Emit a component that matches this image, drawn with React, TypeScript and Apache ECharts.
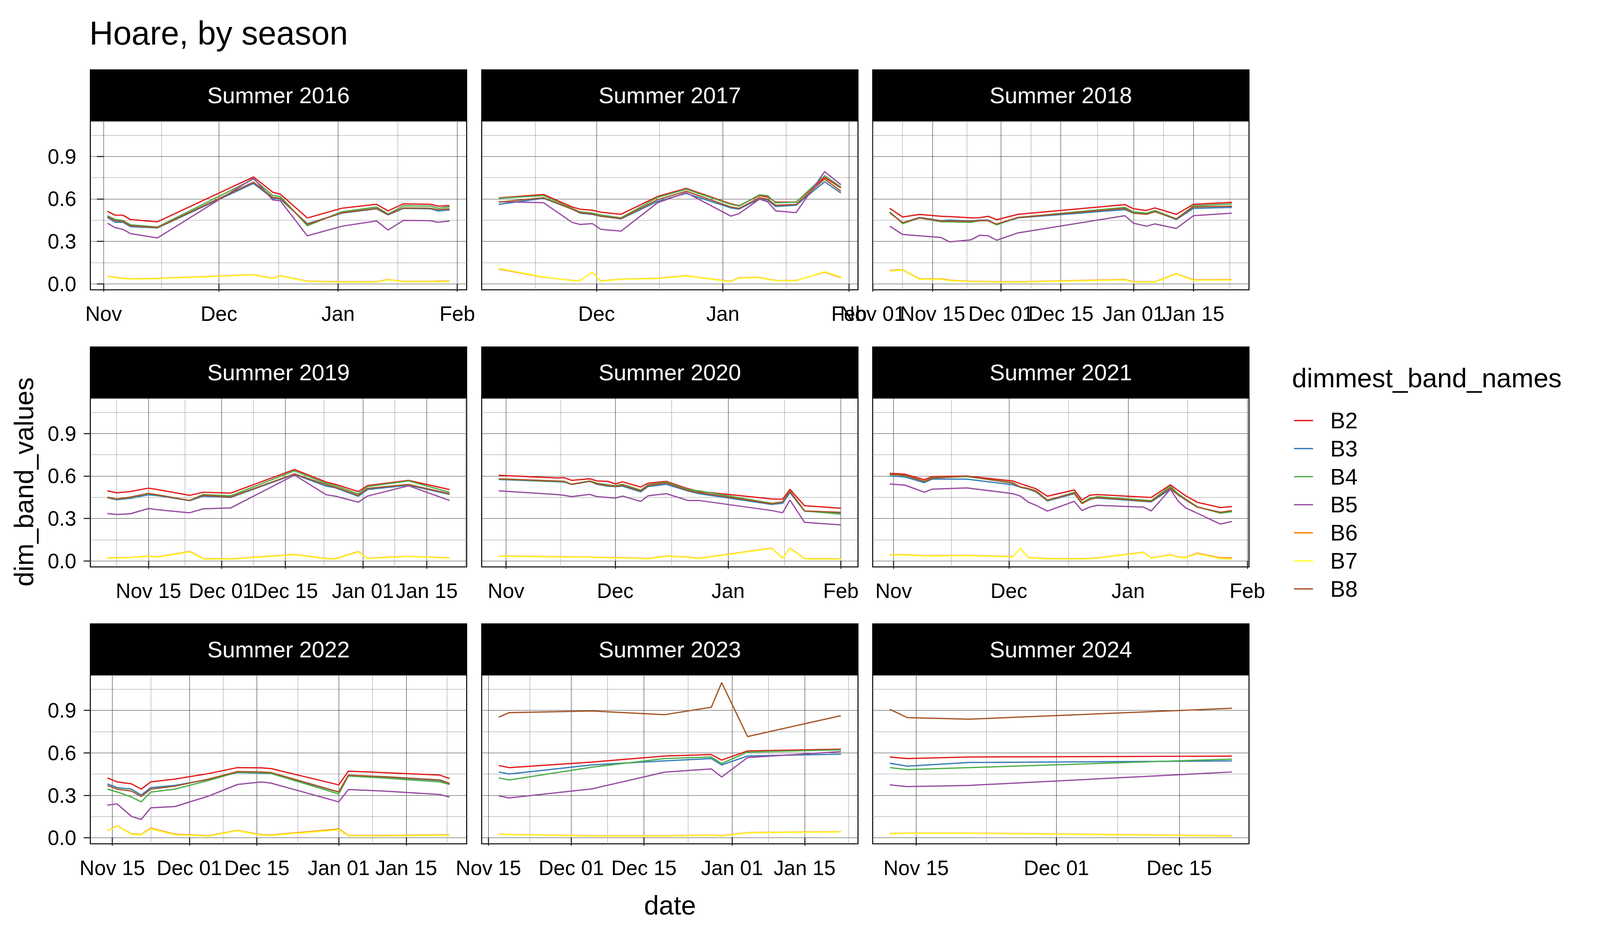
import React, { useEffect, useRef } from 'react';
import * as echarts from 'echarts';

const FONT = '"Liberation Sans", Arial, Helvetica, sans-serif';

const bands = ['B2', 'B3', 'B4', 'B5', 'B6', 'B7', 'B8'];
const bandColors = ['#E41A1C', '#377EB8', '#4DAF4A', '#984EA3', '#FF7F00', '#FFFF33', '#A65628'];

// date breaks used by the x axes (month-day strings)
const monthlyBreaks = ['10-01', '11-01', '12-01', '01-01', '02-01', '03-01'];
const halfMonthBreaks = ['10-15', '11-01', '11-15', '12-01', '12-15', '01-01', '01-15', '02-01', '02-15'];
const yBreaks = [0, 0.3, 0.6, 0.9];
const yMinorBreaks = [0.15, 0.45, 0.75, 1.05];

const summer2016 = {
    dates: ['11-02', '11-04', '11-06', '11-08', '11-15', '12-10', '12-15', '12-17', '12-24', '01-02', '01-11', '01-14', '01-18', '01-25', '01-27', '01-30'],
    B2: [.512, .485, .485, .454, .438, .755, .647, .633, .465, .534, .562, .515, .565, .562, .549, .552],
    B3: [.469, .435, .435, .404, .395, .709, .604, .598, .425, .499, .530, .487, .533, .530, .515, .521],
    B4: [.481, .454, .448, .417, .401, .740, .623, .617, .410, .509, .543, .493, .551, .549, .534, .543],
    B5: [.428, .397, .385, .355, .324, .746, .592, .586, .339, .407, .444, .380, .448, .446, .435, .444],
    B6: [.054, .045, .039, .035, .038, .064, .039, .057, .018, .014, .014, .030, .017, .017, .018, .019],
    B7: [.052, .043, .037, .033, .036, .062, .037, .055, .016, .012, .012, .028, .015, .015, .015, .016],
    B8: [.475, .446, .441, .411, .397, .718, .610, .604, .419, .502, .533, .490, .536, .534, .523, .530],
};

const summer2017 = {
    dates: ['11-07', '11-18', '11-25', '11-27', '11-30', '12-02', '12-07', '12-16', '12-23', '01-03', '01-05', '01-10', '01-12', '01-14', '01-19', '01-26', '01-30'],
    B2: [.607, .631, .543, .527, .520, .506, .491, .617, .674, .565, .552, .623, .613, .577, .577, .752, .678],
    B3: [.561, .604, .528, .499, .490, .477, .459, .582, .639, .536, .528, .600, .592, .546, .555, .721, .641],
    B4: [.604, .623, .533, .508, .499, .487, .466, .610, .668, .561, .549, .629, .623, .572, .577, .764, .684],
    B5: [.580, .573, .434, .419, .425, .385, .372, .573, .644, .478, .496, .598, .580, .515, .503, .792, .700],
    B6: [.105, .047, .024, .024, .082, .020, .033, .039, .057, .017, .043, .045, .033, .024, .023, .083, .045],
    B7: [.109, .049, .022, .022, .084, .018, .031, .037, .055, .015, .041, .043, .031, .022, .021, .086, .049],
    B8: [.577, .608, .527, .503, .493, .478, .462, .594, .654, .543, .533, .608, .598, .555, .561, .740, .654],
};

const summer2018 = {
    dates: ['11-05', '11-08', '11-12', '11-17', '11-19', '11-24', '11-26', '11-28', '11-30', '12-05', '12-30', '01-01', '01-04', '01-06', '01-11', '01-15', '01-24'],
    B2: [.533, .472, .490, .477, .475, .466, .467, .477, .453, .491, .559, .530, .518, .536, .491, .561, .576],
    B3: [.502, .432, .469, .446, .450, .444, .450, .450, .419, .466, .524, .499, .493, .512, .454, .533, .540],
    B4: [.508, .425, .465, .438, .438, .434, .446, .446, .416, .469, .540, .508, .499, .518, .459, .551, .565],
    B5: [.407, .349, .339, .327, .296, .311, .343, .339, .308, .360, .481, .428, .407, .423, .391, .481, .499],
    B6: [.094, .099, .034, .034, .025, .017, .017, .016, .014, .014, .030, .014, .014, .014, .071, .028, .030],
    B7: [.090, .096, .031, .031, .022, .015, .015, .014, .012, .012, .027, .012, .012, .012, .068, .025, .027],
    B8: [.502, .432, .465, .444, .444, .441, .446, .446, .422, .469, .533, .499, .491, .509, .459, .543, .549],
};

const summer2019 = {
    dates: ['11-06', '11-08', '11-11', '11-15', '11-17', '11-24', '11-27', '12-03', '12-17', '12-24', '12-26', '12-31', '01-02', '01-11', '01-20'],
    B2: [.495, .481, .490, .514, .504, .463, .485, .479, .646, .557, .541, .490, .532, .569, .504],
    B3: [.446, .432, .442, .467, .461, .426, .457, .448, .611, .528, .516, .457, .504, .535, .470],
    B4: [.451, .436, .448, .475, .467, .427, .469, .460, .636, .547, .531, .473, .525, .565, .485],
    B5: [.335, .328, .333, .370, .362, .340, .368, .374, .606, .467, .457, .415, .458, .531, .427],
    B6: [.021, .022, .024, .034, .028, .066, .016, .014, .045, .016, .015, .066, .018, .033, .021],
    B7: [.019, .020, .022, .032, .026, .063, .014, .012, .043, .014, .013, .063, .016, .031, .019],
    B8: [.448, .438, .451, .477, .467, .427, .464, .452, .615, .538, .520, .463, .512, .540, .475],
};

const summer2020 = {
    dates: ['10-30', '11-15', '11-17', '11-19', '11-24', '11-26', '11-29', '12-01', '12-03', '12-08', '12-10', '12-15', '12-21', '12-24', '01-13', '01-16', '01-18', '01-22', '02-01'],
    B2: [.605, .586, .588, .569, .580, .565, .562, .544, .559, .522, .549, .562, .510, .491, .438, .436, .506, .390, .372],
    B3: [.575, .559, .557, .540, .562, .541, .528, .525, .528, .488, .525, .541, .494, .475, .399, .407, .483, .352, .340],
    B4: [.578, .562, .559, .541, .565, .549, .537, .531, .541, .500, .537, .557, .504, .495, .407, .417, .495, .353, .331],
    B5: [.495, .469, .463, .454, .470, .454, .448, .444, .458, .420, .460, .475, .427, .427, .356, .340, .430, .273, .254],
    B6: [.034, .030, .029, .028, .028, .025, .024, .023, .023, .018, .016, .034, .027, .018, .090, .018, .090, .016, .014],
    B7: [.032, .028, .027, .026, .026, .023, .022, .021, .021, .016, .014, .032, .025, .016, .088, .016, .088, .014, .012],
    B8: [.580, .565, .562, .541, .563, .544, .532, .526, .535, .495, .532, .551, .498, .483, .404, .417, .491, .353, .343],
};

const summer2021 = {
    dates: ['10-31', '11-04', '11-09', '11-11', '11-20', '12-02', '12-04', '12-06', '12-08', '12-11', '12-18', '12-20', '12-22', '12-24', '01-05', '01-07', '01-12', '01-14', '01-16', '01-19', '01-25', '01-28'],
    B2: [.619, .612, .574, .596, .599, .565, .545, .528, .510, .457, .501, .430, .464, .469, .451, .448, .537, .498, .460, .414, .377, .384],
    B3: [.600, .593, .553, .578, .578, .538, .520, .507, .488, .423, .475, .405, .442, .444, .421, .417, .507, .467, .430, .380, .343, .352],
    B4: [.612, .602, .562, .588, .596, .553, .522, .510, .491, .426, .485, .411, .442, .454, .430, .426, .528, .475, .436, .383, .337, .347],
    B5: [.543, .535, .485, .507, .516, .475, .458, .415, .393, .352, .421, .356, .380, .393, .380, .353, .506, .423, .374, .337, .260, .279],
    B6: [.043, .043, .037, .037, .039, .030, .088, .024, .021, .016, .016, .016, .018, .021, .061, .021, .043, .028, .024, .055, .021, .021],
    B7: [.041, .041, .035, .035, .037, .028, .090, .022, .019, .014, .014, .014, .016, .019, .059, .019, .041, .026, .022, .051, .016, .014],
    B8: [.611, .605, .562, .584, .599, .549, .522, .512, .495, .430, .479, .405, .433, .448, .423, .421, .516, .467, .433, .380, .343, .356],
};

const summer2022 = {
    dates: ['11-14', '11-16', '11-19', '11-21', '11-23', '11-28', '12-05', '12-11', '12-16', '12-18', '01-01', '01-03', '01-10', '01-22', '01-24'],
    B2: [.423, .395, .381, .344, .395, .415, .454, .496, .494, .489, .374, .471, .461, .443, .419],
    B3: [.381, .355, .344, .302, .355, .370, .412, .461, .457, .454, .324, .440, .430, .405, .377],
    B4: [.344, .324, .288, .254, .323, .344, .405, .464, .461, .454, .310, .436, .423, .395, .377],
    B5: [.231, .240, .151, .130, .212, .221, .295, .377, .395, .386, .254, .341, .331, .306, .288],
    B6: [.050, .085, .027, .023, .068, .025, .015, .052, .020, .020, .062, .017, .016, .020, .020],
    B7: [.048, .083, .024, .020, .063, .021, .012, .049, .017, .017, .056, .014, .013, .017, .017],
    B8: [.370, .344, .330, .292, .344, .365, .415, .468, .465, .461, .324, .443, .433, .409, .384],
};

const summer2023 = {
    dates: ['11-17', '11-19', '12-05', '12-19', '12-28', '12-30', '01-04', '01-22'],
    B2: [.511, .496, .535, .578, .588, .549, .614, .626],
    B3: [.465, .451, .515, .543, .560, .515, .578, .591],
    B4: [.423, .409, .499, .560, .571, .525, .606, .621],
    B5: [.296, .282, .346, .464, .487, .430, .567, .609],
    B6: [.026, .024, .014, .014, .019, .015, .037, .043],
    B7: [.024, .022, .012, .012, .017, .013, .035, .041],
    B8: [.853, .884, .896, .870, .922, 1.096, .715, .863],
};

const summer2024 = {
    dates: ['11-12', '11-14', '11-21', '12-21'],
    B2: [.571, .560, .571, .577],
    B3: [.527, .506, .532, .543],
    B4: [.496, .482, .496, .556],
    B5: [.374, .362, .370, .465],
    B6: [.030, .033, .033, .014],
    B7: [.028, .031, .031, .012],
    B8: [.908, .849, .838, .915],
};

const panels = [
    { name: 'Summer 2016', data: summer2016, breaks: monthlyBreaks, fmt: 'month' },
    { name: 'Summer 2017', data: summer2017, breaks: monthlyBreaks, fmt: 'month' },
    { name: 'Summer 2018', data: summer2018, breaks: halfMonthBreaks, fmt: 'day' },
    { name: 'Summer 2019', data: summer2019, breaks: halfMonthBreaks, fmt: 'day' },
    { name: 'Summer 2020', data: summer2020, breaks: monthlyBreaks, fmt: 'month' },
    { name: 'Summer 2021', data: summer2021, breaks: monthlyBreaks, fmt: 'month' },
    { name: 'Summer 2022', data: summer2022, breaks: halfMonthBreaks, fmt: 'day' },
    { name: 'Summer 2023', data: summer2023, breaks: halfMonthBreaks, fmt: 'day' },
    { name: 'Summer 2024', data: summer2024, breaks: halfMonthBreaks, fmt: 'day' },
];

const MONTH_OFFSET: Record<string, number> = { '10': -31, '11': 0, '12': 30, '01': 61, '02': 92, '03': 120 };
const MONTH_NAME: Record<string, string> = { '10': 'Oct', '11': 'Nov', '12': 'Dec', '01': 'Jan', '02': 'Feb', '03': 'Mar' };
const dayOf = (md: string) => MONTH_OFFSET[md.slice(0, 2)] + Number(md.slice(3)) - 1;

// layout, in pixels of a 4800 x 2400 page (scaled to the real viewport)
const colLeft = [271, 1445, 2618];
const rowTop = [309.5, 1018.5, 1727];
const PW = 1129;
const PH = 432;
const STRIP_H = 132;

const App: React.FC = () => {
    const chartRef = useRef<HTMLDivElement>(null);

    useEffect(() => {
        document.documentElement.style.overflow = 'hidden';
        document.body.style.margin = '0';
        document.body.style.overflow = 'hidden';
        const el = chartRef.current;
        if (!el) return;
        const chart = echarts.init(el, null, { renderer: 'svg' });
        const sx = chart.getWidth() / 4800;
        const sy = chart.getHeight() / 2400;
        const X = (v: number) => v * sx;
        const Y = (v: number) => v * sy;
        const F = (v: number) => v * sx;

        // shared y range, expanded 5% like ggplot
        let lo = Infinity, hi = -Infinity;
        panels.forEach(p => bands.forEach(b => (p.data as any)[b].forEach((v: number) => {
            lo = Math.min(lo, v); hi = Math.max(hi, v);
        })));
        const yPad = (hi - lo) * 0.05;
        const yMin = lo - yPad, yMax = hi + yPad;

        const grids: any[] = [];
        const xAxes: any[] = [];
        const yAxes: any[] = [];
        const series: any[] = [];
        const graphics: any[] = [];

        const tickStyle = { color: '#333', width: Math.max(1, F(3.5)) };
        const majorLine = { color: '#3a3a3a', width: Math.max(1, F(1.3)) };
        const minorLine = { color: '#9a9a9a', width: 1 };
        const tickLabel = {
            fontSize: F(62), lineHeight: F(62), color: '#000', fontFamily: FONT,
            hideOverlap: false
        };

        panels.forEach((p, i) => {
            const r = Math.floor(i / 3), c = i % 3;
            const left = X(colLeft[c]), top = Y(rowTop[r]);
            const w = X(PW), h = Y(PH);
            grids.push({
                left, top, width: w, height: h,
                show: true, borderColor: '#000', borderWidth: F(3), backgroundColor: '#fff',
                containLabel: false, outerBoundsMode: 'none'
            });

            const xs = p.data.dates.map(dayOf);
            const x0 = xs[0], x1 = xs[xs.length - 1];
            const pad = (x1 - x0) * 0.05;
            const xmin = x0 - pad - 1e-6, xmax = x1 + pad + 1e-6;
            const major = p.breaks.map(dayOf);
            const minor = major.slice(1).map((v, k) => (v + major[k]) / 2);
            const labelOf: Record<number, string> = {};
            p.breaks.forEach(b => {
                const m = MONTH_NAME[b.slice(0, 2)];
                labelOf[dayOf(b)] = p.fmt === 'month' ? m : `${m} ${b.slice(3)}`;
            });
            // month-start labels on one axis, mid-month labels on the other,
            // so that neighbouring labels never get dropped for overlapping
            const startLabels = p.breaks.filter(b => b.endsWith('-01')).map(dayOf);
            const midLabels = p.breaks.filter(b => !b.endsWith('-01')).map(dayOf);
            const fmt = (v: number) => labelOf[Math.round(v)] ?? '';

            xAxes.push({
                type: 'value', gridIndex: i, min: xmin, max: xmax, position: 'bottom',
                axisLine: { show: false },
                axisTick: { show: true, length: Y(20), lineStyle: tickStyle, customValues: major },
                axisLabel: { ...tickLabel, customValues: startLabels, formatter: fmt, margin: Y(35) },
                splitLine: { show: true, lineStyle: majorLine }
            });
            xAxes.push({
                type: 'value', gridIndex: i, min: xmin, max: xmax, position: 'bottom',
                axisLine: { show: false },
                axisTick: { show: false, customValues: minor },
                axisLabel: midLabels.length
                    ? { ...tickLabel, customValues: midLabels, formatter: fmt, margin: Y(35) }
                    : { show: false },
                splitLine: { show: true, lineStyle: minorLine }
            });

            const first = c === 0;
            yAxes.push({
                type: 'value', gridIndex: i, min: yMin, max: yMax,
                axisLine: { show: false },
                axisTick: { show: first, length: X(20), lineStyle: tickStyle, customValues: yBreaks },
                axisLabel: {
                    ...tickLabel, show: first, customValues: yBreaks,
                    formatter: (v: number) => v.toFixed(1), margin: X(42)
                },
                splitLine: { show: true, lineStyle: majorLine }
            });
            yAxes.push({
                type: 'value', gridIndex: i, min: yMin, max: yMax,
                axisLine: { show: false },
                axisTick: { show: false, customValues: yMinorBreaks },
                axisLabel: { show: false },
                splitLine: { show: true, lineStyle: minorLine }
            });

            bands.forEach((b, k) => {
                const vals: number[] = (p.data as any)[b];
                series.push({
                    type: 'line', name: b, xAxisIndex: 2 * i, yAxisIndex: 2 * i,
                    data: xs.map((x, j) => [x, vals[j]]),
                    symbol: 'none', color: bandColors[k],
                    lineStyle: { width: F(3.8), color: bandColors[k] },
                    itemStyle: { color: bandColors[k] },
                    clip: true, z: 3
                });
            });

            graphics.push({
                type: 'rect', z: 20,
                shape: { x: left - F(1.5), y: top - Y(STRIP_H), width: w + F(3), height: Y(STRIP_H) },
                style: { fill: '#000' }
            });
            graphics.push({
                type: 'text', z: 21, x: left + w / 2, y: top - Y(STRIP_H) / 2,
                style: { text: p.name, fill: '#fff', fontSize: F(68), fontFamily: FONT, align: 'center', verticalAlign: 'middle' }
            });
        });

        graphics.push({
            type: 'text', x: X(71), y: Y(1233), rotation: Math.PI / 2,
            style: { text: 'dim_band_values', fill: '#000', fontSize: F(80), fontFamily: FONT, align: 'center', verticalAlign: 'middle' }
        });
        graphics.push({
            type: 'text', x: X(2010), y: Y(2340) - F(80) * 0.3465,
            style: { text: 'date', fill: '#000', fontSize: F(80), fontFamily: FONT, align: 'center', verticalAlign: 'middle' }
        });

        const legendRow = Y(71.8);
        const legendFont = F(67);

        chart.setOption({
            animation: false,
            backgroundColor: '#fff',
            title: [
                {
                    text: 'Hoare, by season', left: X(268), top: Y(114) - F(99) * 0.8465, padding: 0,
                    textStyle: { fontSize: F(99), lineHeight: F(99), fontWeight: 'normal', color: '#000', fontFamily: FONT }
                },
                {
                    text: 'dimmest_band_names', left: X(3876), top: Y(991) - F(80) * 0.8465, padding: 0,
                    textStyle: { fontSize: F(80), lineHeight: F(80), fontWeight: 'normal', color: '#000', fontFamily: FONT }
                }
            ],
            legend: {
                data: bands, orient: 'vertical', left: X(3882), top: Y(1076) - legendFont / 2, padding: 0,
                icon: 'rect', itemWidth: X(57), itemHeight: Math.max(2, F(4)), itemGap: legendRow - legendFont,
                selectedMode: false,
                textStyle: {
                    fontSize: legendFont, lineHeight: legendFont, color: '#000', fontFamily: FONT,
                    padding: [0, 0, 0, X(46)]
                }
            },
            grid: grids,
            xAxis: xAxes,
            yAxis: yAxes,
            series,
            graphic: graphics
        });

        return () => {
            chart.dispose();
        };
    }, []);

    return <div ref={chartRef} style={{ width: '100vw', height: '100vh' }} />;
};

export default App;
